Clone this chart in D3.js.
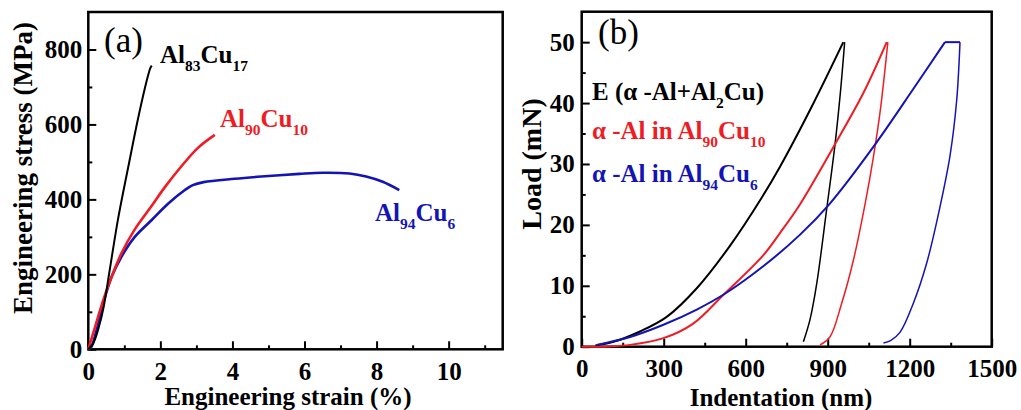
<!DOCTYPE html>
<html>
<head>
<meta charset="utf-8">
<script src="https://cdn.jsdelivr.net/npm/d3@7"></script>
<style>
  body { margin: 0; background: #fff; }
  svg text { font-family: "Liberation Serif", "DejaVu Serif", serif; }
  .tick text { font-weight: bold; font-size: 25px; fill: #000; }
  .tick line { stroke: #000; stroke-width: 2; }
</style>
</head>
<body>
<svg width="1021" height="410"></svg>
<script>
// panel (a) tensile curves, [strain %, stress MPa]
var al83Tensile = [[0,0],[0.14,17],[0.3,62],[0.42,110],[0.6,215],[0.83,350],[1.11,487],[1.39,620],[1.66,731],[1.72,750],[1.76,757]];
var al90Tensile = [[0,0],[0.19,60],[0.415,131],[0.65,194],[0.92,256],[1.29,320],[1.76,383],[2.12,432],[2.59,489],[3.05,538],[3.51,572]];
var al94Tensile = [[0.02,0],[0.09,7],[0.23,51],[0.415,123],[0.65,194],[0.92,247],[1.29,300],[1.76,345],[2.22,389],[2.68,425],[2.9,438],[3.2,446],[4.06,455],[4.8,461],[5.86,468],[6.51,471],[7.25,469],[7.71,461],[8.17,447],[8.63,425]];

// panel (b) nanoindentation, [depth nm, load mN]
var eLoading = [[50,0.2],[116,0.8],[213,2.5],[311,4.9],[421,9.6],[543,16.6],[659,24.5],[726,29.6],[847,39.9],[957,50]];
var eUnloading = [[811,0.8],[835,4.4],[860,10.4],[896,22.5],[927,33.3],[947,42],[962,50]];
var al90Loading = [[0,0],[100,0.05],[177,0.3],[299,1.4],[408,3.8],[518,8.5],[664,15],[726,18.7],[799,23.4],[921,32.8],[1030,41.6],[1116,50]];
var al90Unloading = [[872,0.3],[908,1.6],[951,7.1],[994,14.2],[1037,23.5],[1067,31.1],[1093,39],[1120,50]];
var al94Loading = [[55,0.3],[177,1.6],[299,3.6],[421,6.1],[531,8.9],[664,13.2],[799,18.4],[908,23.5],[1067,32.8],[1213,42.3],[1329,50]];
var al94Hold = [[1329,50],[1384,50]];
var al94Unloading = [[1104,0.6],[1130,1.0],[1165,2.4],[1213,7.1],[1262,13.7],[1311,23],[1348,31.5],[1372,40.5],[1384,50]];

var strainTicks = [0, 2, 4, 6, 8, 10];
var strainMinor = [1, 3, 5, 7, 9, 11];
var stressTicks = [0, 200, 400, 600, 800];
var stressMinor = [100, 300, 500, 700];
var depthTicks = [0, 300, 600, 900, 1200, 1500];
var depthMinor = [150, 450, 750, 1050, 1350];
var loadTicks = [0, 10, 20, 30, 40, 50];
var loadMinor = [5, 15, 25, 35, 45];

var RED = "#ee1c24", BLUE = "#1414b4";
var SERIF = "Liberation Serif, DejaVu Serif, serif";

var svg = d3.select("svg");

function panel(box, xDom, yDom, xt, xm, yt, ym, xPad, yPad) {
    var x = d3.scaleLinear().domain(xDom).range([box.l, box.r]);
    var y = d3.scaleLinear().domain(yDom).range([box.b, box.t]);
    var g = svg.append("g");

    g.append("g").attr("transform", "translate(0," + box.b + ")")
        .call(d3.axisBottom(x).tickValues(xt).tickSize(-8).tickPadding(xPad).tickFormat(d3.format("d")));
    g.append("g").attr("transform", "translate(0," + box.b + ")")
        .call(d3.axisBottom(x).tickValues(xm).tickSize(-4).tickFormat(""));
    g.append("g").attr("transform", "translate(" + box.l + ",0)")
        .call(d3.axisLeft(y).tickValues(yt).tickSize(-8).tickPadding(yPad).tickFormat(d3.format("d")));
    g.append("g").attr("transform", "translate(" + box.l + ",0)")
        .call(d3.axisLeft(y).tickValues(ym).tickSize(-4).tickFormat(""));
    g.selectAll(".domain").remove();
    g.selectAll("g").attr("font-family", SERIF);

    g.append("rect")
        .attr("x", box.l).attr("y", box.t)
        .attr("width", box.r - box.l).attr("height", box.b - box.t)
        .attr("fill", "none").attr("stroke", "#000").attr("stroke-width", 2.5);

    return {x: x, y: y, g: g};
}

function curve(p, data, color, w) {
    var line = d3.line()
        .x(function(d) { return p.x(d[0]); })
        .y(function(d) { return p.y(d[1]); })
        .curve(d3.curveCatmullRom.alpha(0.5));
    p.g.append("path")
        .datum(data)
        .attr("d", line)
        .attr("fill", "none")
        .attr("stroke", color)
        .attr("stroke-width", w)
        .attr("stroke-linejoin", "round");
}

// text with subscripts: parts = [[text, isSub], ...]
function label(x, y, parts, color, size) {
    var t = svg.append("text")
        .attr("x", x).attr("y", y)
        .attr("font-family", SERIF)
        .attr("font-weight", "bold")
        .attr("font-size", size)
        .attr("fill", color);
    var down = false;
    parts.forEach(function(p) {
        var dy = 0;
        if (p[1] && !down) { dy = size * 0.3; down = true; }
        else if (!p[1] && down) { dy = -size * 0.3; down = false; }
        t.append("tspan")
            .attr("font-size", p[1] ? size * 0.62 : size)
            .attr("dy", dy)
            .text(p[0]);
    });
    return t;
}

function title(x, y, txt, rot, size) {
    svg.append("text")
        .attr("transform", "translate(" + x + "," + y + ")" + (rot ? " rotate(-90)" : ""))
        .attr("text-anchor", "middle")
        .attr("font-family", SERIF)
        .attr("font-weight", "bold").attr("font-size", size)
        .text(txt);
}

// ---- panel (a)
var pa = panel({l: 88.3, r: 502.7, t: 12, b: 349.3}, [0, 11.5], [0, 900],
    strainTicks, strainMinor, stressTicks, stressMinor, 13, 6);

curve(pa, al94Tensile, BLUE, 2.6);
curve(pa, al90Tensile, RED, 2.6);
curve(pa, al83Tensile, "#000", 2);

svg.append("text").attr("x", 104).attr("y", 52)
    .attr("font-family", SERIF).attr("font-size", 35).text("(a)");

label(160, 63, [["Al", 0], ["83", 1], ["Cu", 0], ["17", 1]], "#000", 25);
label(220, 127, [["Al", 0], ["90", 1], ["Cu", 0], ["10", 1]], RED, 25);
label(375, 221, [["Al", 0], ["94", 1], ["Cu", 0], ["6", 1]], BLUE, 25);

title(288, 405, "Engineering strain (%)", false, 25);
title(32, 168, "Engineering stress (MPa)", true, 27);

// ---- panel (b)
var pb = panel({l: 581.7, r: 991.7, t: 11.7, b: 346.7}, [0, 1500], [0, 55],
    depthTicks, depthMinor, loadTicks, loadMinor, 13, 7);

curve(pb, eLoading, "#000", 2);
curve(pb, eUnloading, "#000", 1.5);
curve(pb, al90Loading, RED, 2);
curve(pb, al90Unloading, RED, 1.5);
curve(pb, al94Loading, BLUE, 2);
curve(pb, al94Hold, BLUE, 2);
curve(pb, al94Unloading, BLUE, 1.5);

svg.append("text").attr("x", 598).attr("y", 44)
    .attr("font-family", SERIF).attr("font-size", 35).text("(b)");

label(592, 100, [["E (\u03b1 -Al+Al", 0], ["2", 1], ["Cu)", 0]], "#000", 25);
label(592, 139, [["\u03b1 -Al in Al", 0], ["90", 1], ["Cu", 0], ["10", 1]], RED, 25);
label(592, 182, [["\u03b1 -Al in Al", 0], ["94", 1], ["Cu", 0], ["6", 1]], BLUE, 25);

title(781, 406, "Indentation (nm)", false, 25);
title(541, 164, "Load (mN)", true, 28);
</script>
</body>
</html>
